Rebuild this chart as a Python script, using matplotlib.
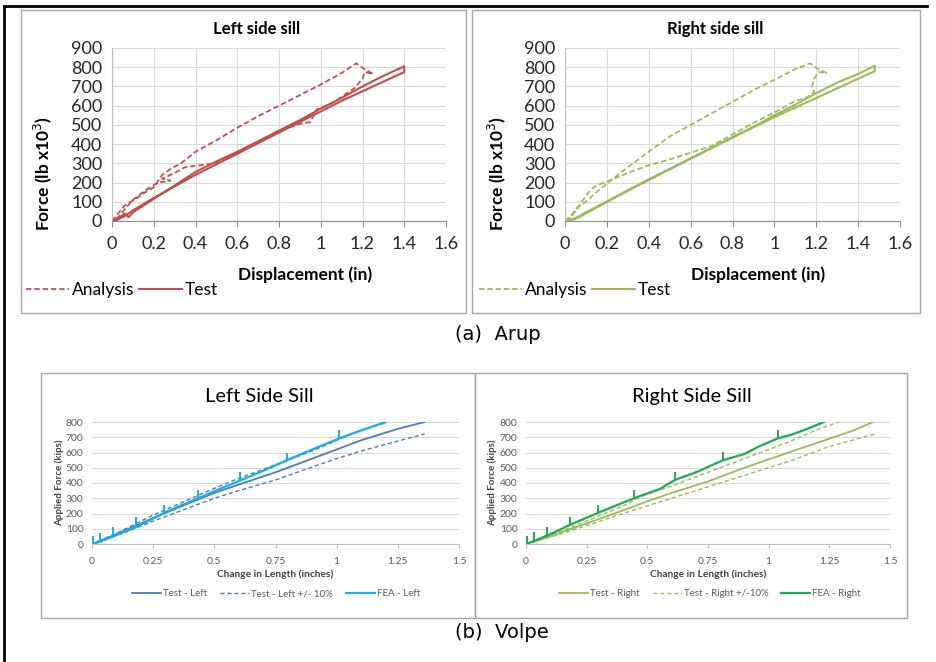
import matplotlib
matplotlib.use('Agg')
import matplotlib.pyplot as plt
import numpy as np
from matplotlib.lines import Line2D
from matplotlib.patches import Rectangle

plt.rcParams['font.family'] = ['Lato', 'DejaVu Sans']

# ---------------------------------------------------------------- data
# (a) Arup - left side sill
arup_l_ana_x = [0, 0.03, 0.06, 0.09, 0.12, 0.16, 0.2, 0.24, 0.28, 0.33, 0.4, 0.5, 0.6, 0.7, 0.8, 0.9, 1.0,
                1.1, 1.17, 1.21, 1.25, 1.21, 1.2, 1.16, 1.1, 1.05, 0.98, 0.95, 0.9, 0.86, 0.8, 0.7, 0.6,
                0.5, 0.42, 0.35, 0.3, 0.24, 0.28, 0.22, 0.16, 0.1, 0.06, 0.03, 0]
arup_l_ana_y = [0, 40, 80, 100, 120, 150, 175, 240, 270, 300, 360, 420, 485, 545, 600, 655, 710,
                770, 820, 790, 765, 775, 740, 690, 645, 610, 580, 515, 505, 490, 470, 410, 350,
                300, 290, 280, 250, 220, 210, 200, 160, 110, 60, 20, 0]
arup_l_test_x = [0, 0.03, 0.06, 0.08, 0.1, 0.2, 0.3, 0.4, 0.5, 0.6, 0.7, 0.8, 0.9, 1.0, 1.1, 1.2, 1.3, 1.4,
                 1.4, 1.3, 1.2, 1.1, 1.0, 0.8, 0.6, 0.4, 0.2, 0.1, 0.06, 0.02, 0]
arup_l_test_y = [0, 10, 40, 20, 45, 115, 185, 255, 310, 360, 415, 470, 525, 585, 640, 700, 755, 805,
                 775, 725, 675, 625, 570, 460, 350, 240, 120, 55, 25, 5, 0]

# (a) Arup - right side sill
arup_r_ana_x = [0, 0.03, 0.06, 0.1, 0.15, 0.2, 0.3, 0.4, 0.5, 0.6, 0.7, 0.8, 0.9, 1.0, 1.1, 1.17, 1.21,
                1.25, 1.21, 1.19, 1.18, 1.19, 1.15, 1.1, 1.0, 0.9, 0.8, 0.7, 0.6, 0.5, 0.4, 0.3, 0.2,
                0.15, 0.12, 0.08, 0.05, 0.02, 0]
arup_r_ana_y = [0, 30, 70, 100, 150, 195, 280, 360, 440, 500, 560, 620, 680, 735, 790, 820, 790,
                770, 775, 740, 700, 670, 640, 625, 565, 510, 450, 390, 355, 320, 290, 250, 205,
                185, 160, 100, 50, 15, 0]
arup_r_test_x = [0, 0.05, 0.1, 0.2, 0.3, 0.4, 0.5, 0.6, 0.7, 0.8, 0.9, 1.0, 1.1, 1.2, 1.3, 1.4, 1.48,
                 1.48, 1.4, 1.3, 1.2, 1.0, 0.8, 0.6, 0.4, 0.2, 0.1, 0.05, 0]
arup_r_test_y = [0, 15, 45, 100, 160, 215, 270, 325, 380, 435, 490, 550, 605, 665, 720, 765, 808,
                 780, 740, 690, 640, 540, 435, 325, 215, 100, 40, 10, 0]

# (b) Volpe - left side sill
volpe_l_test_x = [0, 0.1, 0.25, 0.4, 0.5, 0.6, 0.75, 0.9, 1.0, 1.1, 1.25, 1.36]
volpe_l_test_y = [0, 65, 170, 270, 335, 390, 470, 560, 620, 680, 755, 800]
volpe_l_up_x = [0, 0.1, 0.25, 0.4, 0.5, 0.6, 0.75, 0.9, 1.0, 1.1, 1.2]
volpe_l_up_y = [0, 70, 190, 295, 365, 430, 520, 610, 680, 745, 795]
volpe_l_low_x = [0, 0.1, 0.25, 0.4, 0.5, 0.6, 0.75, 0.9, 1.0, 1.1, 1.25, 1.36]
volpe_l_low_y = [0, 55, 150, 240, 300, 350, 420, 505, 560, 610, 675, 722]
volpe_l_fea_x = [0, 0.034, 0.086, 0.18, 0.295, 0.434, 0.52, 0.604, 0.7, 0.795, 0.9, 1.01, 1.1, 1.2]
volpe_l_fea_y = [0, 15, 50, 110, 205, 300, 360, 415, 480, 548, 620, 692, 745, 800]
volpe_l_spike_x = [0.004, 0.034, 0.086, 0.18, 0.295, 0.434, 0.604, 0.795, 1.01]
volpe_l_spike_lo = [2, 15, 50, 110, 205, 300, 415, 548, 692]
volpe_l_spike_hi = [54, 74, 113, 174, 255, 353, 469, 600, 746]

# (b) Volpe - right side sill
volpe_r_test_x = [0, 0.1, 0.25, 0.4, 0.5, 0.6, 0.75, 0.9, 1.0, 1.1, 1.25, 1.35, 1.43]
volpe_r_test_y = [0, 50, 135, 220, 280, 335, 410, 500, 555, 610, 690, 745, 800]
volpe_r_up_x = [0, 0.1, 0.25, 0.4, 0.5, 0.6, 0.75, 0.9, 1.0, 1.1, 1.2, 1.29]
volpe_r_up_y = [0, 55, 150, 250, 330, 380, 470, 560, 620, 680, 750, 800]
volpe_r_low_x = [0, 0.1, 0.25, 0.4, 0.5, 0.6, 0.75, 0.9, 1.0, 1.1, 1.25, 1.44]
volpe_r_low_y = [0, 45, 120, 200, 250, 300, 375, 450, 500, 550, 640, 722]
volpe_r_fea_x = [0, 0.034, 0.087, 0.181, 0.298, 0.445, 0.55, 0.614, 0.7, 0.813, 0.9, 0.96, 1.037, 1.1, 1.15, 1.228]
volpe_r_fea_y = [0, 20, 55, 125, 205, 300, 360, 420, 470, 550, 590, 640, 692, 720, 750, 800]
volpe_r_spike_x = [0.004, 0.034, 0.087, 0.181, 0.298, 0.445, 0.614, 0.813, 1.037]
volpe_r_spike_lo = [2, 20, 55, 125, 205, 300, 420, 550, 692]
volpe_r_spike_hi = [54, 76, 113, 174, 255, 357, 471, 604, 746]

# ---------------------------------------------------------------- layout (pixels)
W, H = 936, 662
fig = plt.figure(figsize=(W / 100, H / 100), dpi=100)


def rect(x0, y0, x1, y1):
    return [x0 / W, 1 - y1 / H, (x1 - x0) / W, (y1 - y0) / H]


def ftext(x, y, s, **kw):
    fig.text(x / W, 1 - y / H, s, ha='center', va='center', **kw)


def box(x0, y0, x1, y1):
    fig.add_artist(Rectangle((x0 / W, 1 - y1 / H), (x1 - x0) / W, (y1 - y0) / H,
                             transform=fig.transFigure, fill=False, ec='#A6A6A6', lw=1))


# outer frame (left and top edges only)
fig.add_artist(Line2D([4 / W, 4 / W], [0, 1 - 6 / H], color='black', lw=2, transform=fig.transFigure))
fig.add_artist(Line2D([4 / W, 927 / W], [1 - 6 / H, 1 - 6 / H], color='black', lw=2, transform=fig.transFigure))

box(21, 10, 466, 313)
box(472, 10, 920, 313)
box(41, 373, 475, 618)
box(475, 373, 907, 618)


def arup_axes(pos, color, ana_x, ana_y, test_x, test_y, title, tx, xlx, ylx, legx):
    ax = fig.add_axes(rect(*pos))
    ax.plot(ana_x, ana_y, color=color, lw=1.3, dashes=(3, 1.6), label='Analysis')
    ax.plot(test_x, test_y, color=color, lw=1.5, label='Test')
    ax.set_xlim(0, 1.6)
    ax.set_ylim(0, 900)
    ax.set_xticks(np.arange(0, 1.61, 0.2))
    ax.set_xticklabels(['0', '0.2', '0.4', '0.6', '0.8', '1', '1.2', '1.4', '1.6'])
    ax.set_yticks(range(0, 901, 100))
    ax.grid(color='#D9D9D9', lw=0.8)
    ax.set_axisbelow(True)
    for s in ['top', 'right']:
        ax.spines[s].set_visible(False)
    ax.spines['left'].set_color('#BFBFBF')
    ax.spines['bottom'].set_color('#8C8C8C')
    ax.tick_params(axis='x', length=4, color='#8C8C8C', labelsize=13, pad=7, labelcolor='#262626')
    ax.tick_params(axis='y', length=0, labelsize=13, pad=7, labelcolor='#262626')
    ftext(tx, 29, title, fontsize=12, fontweight='bold')
    ftext(xlx, 275, 'Displacement (in)', fontsize=12.5, fontweight='bold')
    ftext(ylx, 173, 'Force (lb x10$^3$)', fontsize=12.5, fontweight='bold', rotation=90)
    ax.legend(loc='center left', bbox_to_anchor=(legx / W, 1 - 290 / H), bbox_transform=fig.transFigure,
              ncol=2, frameon=False, fontsize=12.5, handlelength=2.5, handletextpad=0.15,
              columnspacing=0.25, borderpad=0, borderaxespad=0)
    return ax


arup_axes((112, 48, 446, 221), '#C0504D', arup_l_ana_x, arup_l_ana_y, arup_l_test_x, arup_l_test_y,
          'Left side sill', 257, 305, 43, 26)
arup_axes((565, 48, 900, 221), '#9BBB59', arup_r_ana_x, arup_r_ana_y, arup_r_test_x, arup_r_test_y,
          'Right side sill', 715, 758, 497, 479)


def volpe_axes(pos, c_test, c_fea, side, data, tx, xlx, ylx, legx):
    tx_, ty_, ux, uy, lx, ly, fx, fy, sx, slo, shi = data
    ax = fig.add_axes(rect(*pos))
    ax.plot(tx_, ty_, color=c_test, lw=1.3, label=f'Test - {side}')
    ax.plot(ux, uy, color=c_test, lw=1.0, dashes=(3, 2),
            label=f'Test - {side} +/- 10%' if side == 'Left' else f'Test - {side} +/-10%')
    ax.plot(lx, ly, color=c_test, lw=1.0, dashes=(3, 2))
    ax.plot(fx, fy, color=c_fea, lw=1.6, label=f'FEA - {side}')
    ax.vlines(sx, slo, shi, color=c_fea, lw=1.4)
    ax.set_xlim(0, 1.5)
    ax.set_ylim(0, 800)
    ax.set_xticks(np.arange(0, 1.51, 0.25))
    ax.set_xticklabels(['0', '0.25', '0.5', '0.75', '1', '1.25', '1.5'])
    ax.set_yticks(range(0, 801, 100))
    ax.yaxis.grid(True, color='#D9D9D9', lw=0.8)
    ax.set_axisbelow(True)
    for s in ['top', 'right', 'left']:
        ax.spines[s].set_visible(False)
    ax.spines['bottom'].set_color('#BFBFBF')
    ax.tick_params(axis='x', length=3, color='#BFBFBF', labelsize=7.5, pad=6, labelcolor='#595959')
    ax.tick_params(axis='y', length=0, labelsize=7.5, pad=6, labelcolor='#595959')
    ftext(tx, 397, f'{side} Side Sill', fontsize=14.5)
    ftext(xlx, 574, 'Change in Length (inches)', fontsize=7.3, fontweight='bold', color='#404040')
    ftext(ylx, 483, 'Applied Force (kips)', fontsize=7, fontweight='bold', color='#404040', rotation=90)
    ax.legend(loc='center', bbox_to_anchor=(legx / W, 1 - 594 / H), bbox_transform=fig.transFigure,
              ncol=3, frameon=False, fontsize=7, handlelength=3.0, handletextpad=0.2,
              columnspacing=1.3, labelcolor='#595959', borderpad=0, borderaxespad=0)
    return ax


volpe_axes((92, 422, 459, 544), '#4A7EBB', '#1AAEE8', 'Left',
           (volpe_l_test_x, volpe_l_test_y, volpe_l_up_x, volpe_l_up_y, volpe_l_low_x, volpe_l_low_y,
            volpe_l_fea_x, volpe_l_fea_y, volpe_l_spike_x, volpe_l_spike_lo, volpe_l_spike_hi),
           259, 275, 59, 276)
volpe_axes((526, 422, 890, 544), '#9BBB59', '#1EAA55', 'Right',
           (volpe_r_test_x, volpe_r_test_y, volpe_r_up_x, volpe_r_up_y, volpe_r_low_x, volpe_r_low_y,
            volpe_r_fea_x, volpe_r_fea_y, volpe_r_spike_x, volpe_r_spike_lo, volpe_r_spike_hi),
           692, 708, 492, 710)

# captions
ftext(498, 334, '(a)  Arup', fontsize=14, family='DejaVu Sans')
ftext(502, 632, '(b)  Volpe', fontsize=14, family='DejaVu Sans')

fig.savefig('out.png', dpi=100)
